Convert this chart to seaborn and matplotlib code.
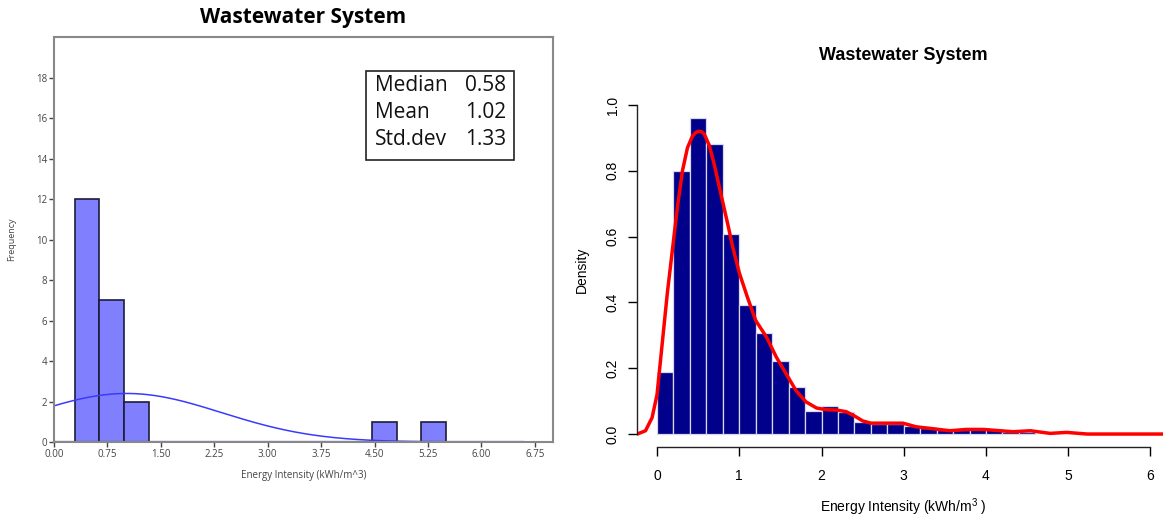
import numpy as np
import pandas as pd
import matplotlib
matplotlib.use("Agg")
import matplotlib.pyplot as plt
from matplotlib.patches import Rectangle
import seaborn as sns

# ---------------- data ----------------
# Left panel (SPSS-style frequency histogram)
left_bin_start = 0.29
left_bin_width = 0.3475
left_counts = [12, 7, 2, 0, 0, 0, 0, 0, 0, 0, 0, 0, 1, 0, 1]
stat_labels = ["Median", "Mean", "Std.dev"]
stat_values = ["0.58", "1.02", "1.33"]
mean_val = 1.02
sd_val = 1.33
left_xticks = [0.00, 0.75, 1.50, 2.25, 3.00, 3.75, 4.50, 5.25, 6.00, 6.75]
left_yticks = [0, 2, 4, 6, 8, 10, 12, 14, 16, 18]

# Right panel (R-style density histogram)
right_bin_width = 0.2
right_density = [0.188, 0.799, 0.959, 0.881, 0.609, 0.391, 0.308, 0.223,
                 0.142, 0.071, 0.086, 0.066, 0.037, 0.031, 0.030, 0.023,
                 0.017, 0.011, 0.012, 0.016, 0.015, 0.006, 0.006]
kde_x = [-0.24, -0.14, -0.06, 0.0, 0.065, 0.126, 0.187, 0.248, 0.309, 0.37,
         0.43, 0.47, 0.504, 0.54, 0.573, 0.634, 0.695, 0.776, 0.858, 0.919, 1.0, 1.10,
         1.20, 1.33, 1.45, 1.57, 1.69, 1.81, 1.94, 2.06, 2.18, 2.30, 2.40,
         2.50, 2.60, 2.75, 2.99, 3.15, 3.36, 3.56, 3.76, 3.97, 4.17, 4.33,
         4.54, 4.78, 4.98, 5.23, 6.24]
kde_y = [0.0, 0.01, 0.05, 0.12, 0.28, 0.43, 0.56, 0.69, 0.80, 0.87,
         0.905, 0.916, 0.92, 0.919, 0.912, 0.878, 0.82, 0.73, 0.64, 0.57, 0.49, 0.415,
         0.345, 0.295, 0.234, 0.183, 0.132, 0.098, 0.079, 0.074, 0.073, 0.068, 0.055,
         0.040, 0.033, 0.033, 0.033, 0.022, 0.016, 0.010, 0.014, 0.014, 0.010, 0.007,
         0.010, 0.002, 0.005, 0.0, 0.0]
right_xticks = [0, 1, 2, 3, 4, 5, 6]
right_yticks = [0.0, 0.2, 0.4, 0.6, 0.8, 1.0]

# ---------------- style ----------------
sns.set_theme(style="ticks")
plt.rcParams["font.family"] = ["Liberation Sans", "DejaVu Sans"]
plt.rcParams["mathtext.fontset"] = "custom"
plt.rcParams["mathtext.rm"] = "Liberation Sans"
plt.rcParams["mathtext.it"] = "Liberation Sans:italic"
plt.rcParams["text.color"] = "black"
plt.rcParams["axes.labelcolor"] = "black"
plt.rcParams["xtick.color"] = "black"
plt.rcParams["ytick.color"] = "black"

W, H = 1163, 521
fig = plt.figure(figsize=(W / 100, H / 100), dpi=100)

def frac_box(x0, y0, x1, y1):
    return [x0 / W, 1 - y1 / H, (x1 - x0) / W, (y1 - y0) / H]

# ---------------- left panel ----------------
axL = fig.add_axes(frac_box(54, 36.5, 552.7, 442))
l_edges = [left_bin_start + left_bin_width * k for k in range(len(left_counts) + 1)]
l_centers = [(a + b) / 2 for a, b in zip(l_edges[:-1], l_edges[1:])]
dfL = pd.DataFrame({"x": l_centers, "w": left_counts})
sns.histplot(data=dfL, x="x", weights="w", bins=l_edges, stat="count",
             color="#8080ff", edgecolor="#1c1c3a", linewidth=1.2, alpha=1.0,
             ax=axL)
xs = np.linspace(0, 6.6, 300)
scale = sum(left_counts) * left_bin_width
ys = scale / (sd_val * np.sqrt(2 * np.pi)) * np.exp(-0.5 * ((xs - mean_val) / sd_val) ** 2)
sns.lineplot(x=xs, y=ys, color="#3a3aff", linewidth=1.1, ax=axL)
sns.lineplot(x=[0, 6.6], y=[0, 0], color="#3a3aff", linewidth=1.6, ax=axL)
axL.set_xlim(0, 7.0)
axL.set_ylim(0, 20.03)
axL.set_xticks(left_xticks)
axL.set_xticklabels([f"{v:.2f}" for v in left_xticks])
axL.set_yticks(left_yticks)
for s in axL.spines.values():
    s.set_color("#888888")
    s.set_linewidth(1.5)
axL.tick_params(axis="both", labelsize=7, colors="#444444", length=3.5, width=1,
                pad=1.5)
for lab in axL.get_xticklabels() + axL.get_yticklabels():
    lab.set_fontfamily(["Open Sans", "DejaVu Sans"])
axL.set_xlabel("Energy Intensity (kWh/m^3)", fontsize=7, color="#444444",
               family=["Open Sans", "DejaVu Sans"], labelpad=7)
axL.set_ylabel("Frequency", fontsize=6.5, color="#444444",
               family=["Open Sans", "DejaVu Sans"], labelpad=14)
fig.text(303 / W, 1 - 18 / H, "Wastewater System", ha="center", va="center",
         fontsize=15, fontweight="bold", family=["Open Sans", "DejaVu Sans"],
         color="black")

# stats box (pixel placement converted to axes fractions)
def ax_frac(px, py):
    return ((px - 54) / (552.7 - 54), (442 - py) / (442 - 36.5))

bx0, by0 = ax_frac(365.7, 160)
bx1, by1 = ax_frac(514.3, 70.7)
axL.add_patch(Rectangle((bx0, by0), bx1 - bx0, by1 - by0, transform=axL.transAxes,
                        facecolor="white", edgecolor="#222222", linewidth=1.2,
                        zorder=5))
line_y = [85, 112, 139]
for lab, val, py in zip(stat_labels, stat_values, line_y):
    tx, ty = ax_frac(375, py)
    axL.text(tx, ty, lab, transform=axL.transAxes, ha="left", va="center",
             fontsize=15, family=["Open Sans", "DejaVu Sans"], color="#111111", zorder=6)
    vx, _ = ax_frac(506, py)
    axL.text(vx, ty, val, transform=axL.transAxes, ha="right", va="center",
             fontsize=15, family=["Open Sans", "DejaVu Sans"], color="#111111", zorder=6)

# ---------------- right panel ----------------
axR = fig.add_axes(frac_box(637.3, 91.8, 1170.2, 447.2))
r_edges = [right_bin_width * k for k in range(len(right_density) + 1)]
r_centers = [(a + b) / 2 for a, b in zip(r_edges[:-1], r_edges[1:])]
dfR = pd.DataFrame({"x": r_centers, "w": right_density})
sns.histplot(data=dfR, x="x", weights="w", bins=r_edges, stat="count",
             color="#00008b", edgecolor="#d8d8e8", linewidth=0.9, alpha=1.0,
             ax=axR)
sns.lineplot(x=kde_x, y=kde_y, color="red", linewidth=2.5, sort=False,
             estimator=None, ax=axR)
axR.set_xlim(-0.24, 6.24)
axR.set_ylim(-0.04, 1.04)
axR.set_xticks(right_xticks)
axR.set_yticks(right_yticks)
axR.set_yticklabels([f"{v:.1f}" for v in right_yticks], rotation=90, va="center")
axR.spines["top"].set_visible(False)
axR.spines["right"].set_visible(False)
axR.spines["left"].set_bounds(0, 1)
axR.spines["bottom"].set_bounds(0, 6)
for s in ("left", "bottom"):
    axR.spines[s].set_color("#222222")
    axR.spines[s].set_linewidth(1.0)
axR.tick_params(axis="both", labelsize=10, colors="black", length=6.5, width=1.0)
axR.tick_params(axis="x", pad=9)
axR.tick_params(axis="y", pad=6)
axR.set_xlabel("Energy Intensity (kWh/m$^{3}$ )", fontsize=10, labelpad=10,
               color="black")
axR.set_ylabel("Density", fontsize=10, labelpad=12, color="black")
fig.text(903.7 / W, 1 - 55 / H, "Wastewater System", ha="center", va="center",
         fontsize=13, fontweight="bold", color="black")

fig.savefig("out.png", dpi=100)
